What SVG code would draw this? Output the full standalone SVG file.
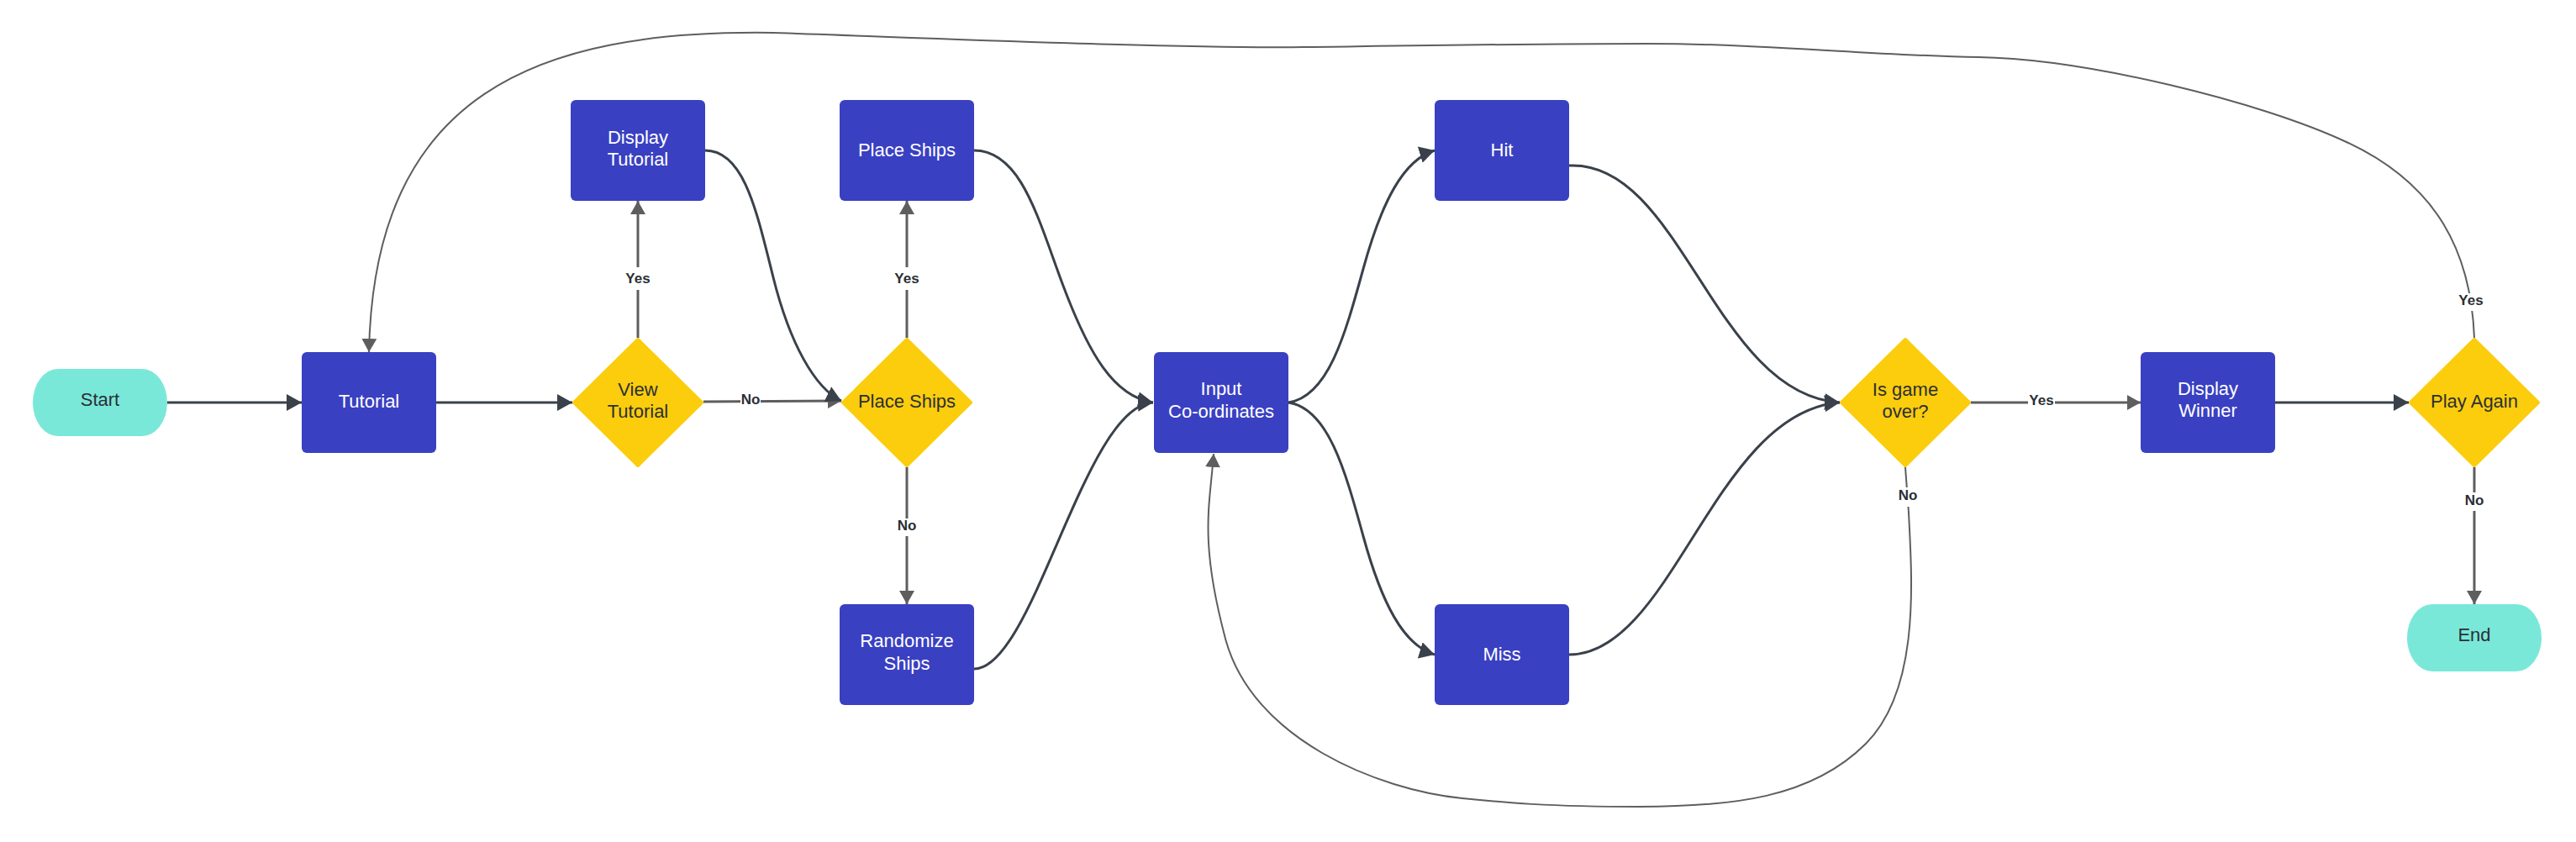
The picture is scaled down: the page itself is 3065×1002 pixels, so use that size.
<svg xmlns="http://www.w3.org/2000/svg" width="3065" height="1002" viewBox="0 0 3065 1002">
<style>
.bg{fill:#ffffff}
.box{fill:#3a40c2}
.dia{fill:#fbcd0c;stroke:#fbcd0c;stroke-width:4;stroke-linejoin:round}
.term{fill:#7ae8d9}
.tw{font-family:"Liberation Sans",Arial,sans-serif;font-size:22px;fill:#ffffff;text-anchor:middle}
.td{font-family:"Liberation Sans",Arial,sans-serif;font-size:22px;fill:#2b2f36;text-anchor:middle}
.dark{fill:none;stroke:#3a414a;stroke-width:3;marker-end:url(#ad)}
.gray{fill:none;stroke:#5e5e5e;stroke-width:3;marker-end:url(#ag)}
.loop{fill:none;stroke:#5e5e5e;stroke-width:2;marker-end:url(#ag)}
.lbl{font-family:"Liberation Sans",Arial,sans-serif;font-size:17px;font-weight:bold;fill:#2b2f36;text-anchor:middle}
.lbg{fill:#ffffff}
</style>
<defs>
<marker id="ad" markerUnits="userSpaceOnUse" viewBox="0 0 18 20" markerWidth="18" markerHeight="20" refX="18" refY="10" orient="auto"><path d="M0,0 L18,10 L0,20 z" fill="#3a414a"/></marker>
<marker id="ag" markerUnits="userSpaceOnUse" viewBox="0 0 16 18" markerWidth="16" markerHeight="18" refX="16" refY="9" orient="auto"><path d="M0,0 L16,9 L0,18 z" fill="#5e5e5e"/></marker>
</defs>
<rect class="bg" x="0" y="0" width="3065" height="1002"/>

<g id="node-start"><rect class="term" x="39" y="439" width="160" height="80" rx="30" ry="40"/><text class="td" x="119" y="483">Start</text></g>
<g id="node-tutorial"><rect class="box" x="359" y="419" width="160" height="120" rx="6"/><text class="tw" x="439" y="485">Tutorial</text></g>
<g id="node-view-tutorial"><polygon class="dia" points="759,404 835,479 759,554 683,479"/><text class="td" x="759" y="471">View</text><text class="td" x="759" y="497">Tutorial</text></g>
<g id="node-display-tutorial"><rect class="box" x="679" y="119" width="160" height="120" rx="6"/><text class="tw" x="759" y="171">Display</text><text class="tw" x="759" y="197">Tutorial</text></g>
<g id="node-place-ships-decision"><polygon class="dia" points="1079,404 1155,479 1079,554 1003,479"/><text class="td" x="1079" y="485">Place Ships</text></g>
<g id="node-place-ships"><rect class="box" x="999" y="119" width="160" height="120" rx="6"/><text class="tw" x="1079" y="186">Place Ships</text></g>
<g id="node-randomize-ships"><rect class="box" x="999" y="719" width="160" height="120" rx="6"/><text class="tw" x="1079" y="770">Randomize</text><text class="tw" x="1079" y="797">Ships</text></g>
<g id="node-input"><rect class="box" x="1373" y="419" width="160" height="120" rx="6"/><text class="tw" x="1453" y="470">Input</text><text class="tw" x="1453" y="497">Co-ordinates</text></g>
<g id="node-hit"><rect class="box" x="1707" y="119" width="160" height="120" rx="6"/><text class="tw" x="1787" y="186">Hit</text></g>
<g id="node-miss"><rect class="box" x="1707" y="719" width="160" height="120" rx="6"/><text class="tw" x="1787" y="786">Miss</text></g>
<g id="node-game-over"><polygon class="dia" points="2267,404 2343,479 2267,554 2191,479"/><text class="td" x="2267" y="471">Is game</text><text class="td" x="2267" y="497">over?</text></g>
<g id="node-display-winner"><rect class="box" x="2547" y="419" width="160" height="120" rx="6"/><text class="tw" x="2627" y="470">Display</text><text class="tw" x="2627" y="496">Winner</text></g>
<g id="node-play-again"><polygon class="dia" points="2944,404 3020,479 2944,554 2868,479"/><text class="td" x="2944" y="485">Play Again</text></g>
<g id="node-end"><rect class="term" x="2864" y="719" width="160" height="80" rx="30" ry="40"/><text class="td" x="2944" y="763">End</text></g>

<g id="connectors">
<path class="dark" d="M199 479 L359 479"/>
<path class="dark" d="M519 479 L681 479"/>
<path class="gray" d="M759 402 L759 239"/>
<path class="gray" d="M837 478 L1001 477"/>
<path class="dark" d="M839 179 C885 179 900 250 920 330 S970 462 1001 477"/>
<path class="gray" d="M1079 402 L1079 239"/>
<path class="gray" d="M1079 556 L1079 719"/>
<path class="dark" d="M1159 179 C1215 179 1235 260 1265 340 S1325 472 1372 479"/>
<path class="dark" d="M1159 796 C1230 796 1290 482 1372 479"/>
<path class="dark" d="M1533 479 C1580 472 1600 400 1622 320 S1670 190 1707 179"/>
<path class="dark" d="M1533 479 C1580 486 1600 558 1622 638 S1670 768 1707 779"/>
<path class="dark" d="M1867 197 C2000 190 2040 470 2189 479"/>
<path class="dark" d="M1867 779 C1990 779 2040 490 2189 479"/>
<path class="gray" d="M2345 479 L2547 479"/>
<path class="dark" d="M2707 479 L2866 479"/>
<path class="gray" d="M2944 556 L2944 719"/>
<path class="loop" d="M2267 556 L2271 610 C2275 690 2285 820 2220 885 S2060 960 1950 960 S1790 955 1740 950 C1640 940 1490 880 1458 760 S1440 600 1444 540"/>
<path class="loop" d="M2944 402 C2940 300 2900 220 2794 170 S2480 70 2354 68 S2100 52 1961 52 S1700 54 1550 56 S1100 45 920 39 C640 35 445 110 439 419"/>
</g>

<g id="connector-labels">
<rect class="lbg" x="743" y="318" width="32" height="27"/><text class="lbl" x="759" y="337">Yes</text>
<rect class="lbg" x="1063" y="318" width="32" height="27"/><text class="lbl" x="1079" y="337">Yes</text>
<rect class="lbg" x="881" y="466" width="24" height="20"/><text class="lbl" x="893" y="481">No</text>
<rect class="lbg" x="1066" y="617" width="26" height="21"/><text class="lbl" x="1079" y="631">No</text>
<rect class="lbg" x="2413" y="467" width="32" height="20"/><text class="lbl" x="2429" y="482">Yes</text>
<rect class="lbg" x="2257" y="580" width="26" height="23"/><text class="lbl" x="2270" y="595">No</text>
<rect class="lbg" x="2924" y="349" width="32" height="21"/><text class="lbl" x="2940" y="363">Yes</text>
<rect class="lbg" x="2931" y="586" width="26" height="22"/><text class="lbl" x="2944" y="601">No</text>
</g>
</svg>
